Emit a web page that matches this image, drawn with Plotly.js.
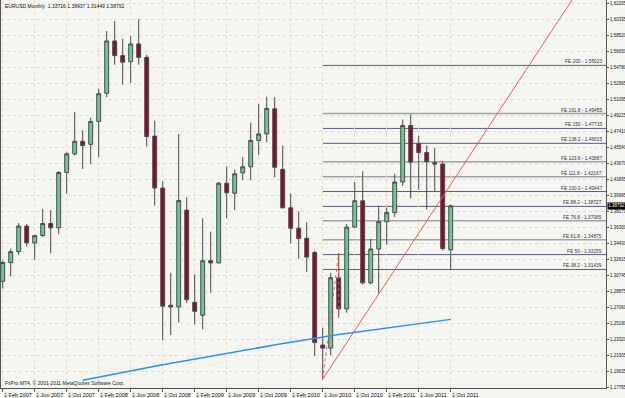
<!DOCTYPE html>
<html><head><meta charset="utf-8">
<script src="https://cdn.plot.ly/plotly-3.0.1.min.js"></script>
<style>html,body{margin:0;padding:0;background:#f5f5f1;}#chart{width:625px;height:398px;}</style>
</head><body><div id="chart"></div>
<script>
// Monthly bars, index 0 = Feb 2007 ... 56 = Oct 2011
const barIdx = Array.from({length: 57}, (_, i) => i);
const openP = [1.3007,1.3225,1.3350,1.3645,1.3450,1.3535,1.3675,1.3625,1.4265,1.4480,1.4625,
  1.4590,1.4855,1.5180,1.5785,1.5615,1.5545,1.5750,1.5595,1.4685,1.4085,1.2730,1.2710,
  1.3830,1.2765,1.2615,1.3245,1.3220,1.4140,1.4025,1.4260,1.4330,1.4635,1.4710,1.5000,
  1.4300,1.3856,1.3620,1.3505,1.3340,1.2270,1.2235,1.3048,1.2688,1.3633,1.3938,1.2990,
  1.3380,1.3696,1.3801,1.4155,1.4808,1.4600,1.4495,1.4378,1.4362,1.33716];
const highP = [1.3245,1.3385,1.3680,1.3670,1.3545,1.3845,1.3830,1.4280,1.4500,1.4965,1.4752,
  1.4900,1.5235,1.5900,1.6015,1.5810,1.5845,1.6038,1.5625,1.4865,1.4165,1.3105,1.4710,
  1.3980,1.3085,1.3735,1.3580,1.4155,1.4335,1.4300,1.4445,1.4840,1.5055,1.5140,1.5135,
  1.4575,1.4020,1.3815,1.3690,1.3360,1.2470,1.3104,1.3333,1.3672,1.4155,1.4280,1.3495,
  1.3880,1.3862,1.4250,1.4875,1.4935,1.4690,1.4575,1.4547,1.4395,1.38937];
const lowP = [1.2925,1.3064,1.3310,1.3405,1.3256,1.3520,1.3330,1.3550,1.4020,1.4460,1.4305,
  1.4360,1.4440,1.5135,1.5510,1.5280,1.5300,1.5510,1.4565,1.3880,1.2325,1.2385,1.2530,
  1.2755,1.2510,1.2450,1.2875,1.3212,1.3735,1.3830,1.4175,1.4175,1.4470,1.4615,1.4210,
  1.3855,1.3445,1.3267,1.3113,1.2143,1.18755,1.2150,1.25871,1.2645,1.3633,1.2970,1.2970,
  1.2867,1.3430,1.3750,1.4110,1.3965,1.4065,1.3835,1.4048,1.3360,1.31449];
const closeP = [1.3225,1.3350,1.3645,1.3450,1.3535,1.3675,1.3625,1.4265,1.4480,1.4625,1.4575,
  1.4855,1.5175,1.5785,1.5615,1.5540,1.5750,1.5595,1.4680,1.4085,1.2720,1.2710,1.3940,
  1.2795,1.2660,1.3245,1.3220,1.4140,1.4030,1.4250,1.4330,1.4635,1.4710,1.5005,1.4325,
  1.3856,1.3620,1.3502,1.3287,1.2300,1.2235,1.3048,1.2688,1.3633,1.3938,1.2990,1.3380,
  1.3696,1.3801,1.4155,1.4808,1.4385,1.4495,1.4390,1.4362,1.3385,1.38792];

// Moving average (blue line)
const maIdx = [10,11,12,13,14,15,16,17,18,19,20,21,22,23,24,25,26,27,28,29,30,31,32,33,
  34,35,36,37,38,39,40,41,42,43,44,45,46,47,48,49,50,51,52,53,54,55,56];
const maVal = [1.1864,1.1883,1.1901,1.1920,1.1938,1.1957,1.1975,1.1993,1.2010,1.2026,1.2042,
  1.2059,1.2075,1.2092,1.2108,1.2125,1.2141,1.2157,1.2175,1.2191,1.2207,1.2223,1.2239,1.2256,
  1.2272,1.2288,1.2304,1.2320,1.2336,1.2353,1.2368,1.2380,1.2393,1.2405,1.2417,1.2430,1.2442,
  1.2454,1.2467,1.2479,1.2491,1.2504,1.2517,1.2529,1.2541,1.2554,1.2567];

// Fibonacci expansion levels
const fePct = ['200','161.8','150','138.2','123.6','111.8','100.0','88.2','76.8','61.8','50','38.2'];
const fePrice = [1.55023,1.49455,1.47735,1.46015,1.43887,1.42167,1.40447,1.38727,1.37065,1.34875,1.33159,1.31439];
const feSoft = [false,true,false,false,true,true,false,false,true,true,false,false];
const feStartIdx = 40;
// Fibo anchor points A-B-C
const fiboIdx = [40, 42, 42];
const fiboPrice = [1.18755, 1.33331, 1.25871];
// Trend line anchors (ray)
const trendIdx = [40, 55];
const trendPrice = [1.18755, 1.3985];

// Axis labels
const dateTickIdx = [0,4,8,12,16,20,24,28,32,36,40,44,48,52,56];
const dateTickText = ['1 Feb 2007','1 Jun 2007','1 Oct 2007','1 Feb 2008','1 Jun 2008','1 Oct 2008',
  '1 Feb 2009','1 Jun 2009','1 Oct 2009','1 Feb 2010','1 Jun 2010','1 Oct 2010','1 Feb 2011',
  '1 Jun 2011','1 Oct 2011'];
const priceTicks = [1.62205,1.60335,1.58520,1.56650,1.54780,1.52965,1.51095,1.49225,1.47410,
  1.45540,1.43670,1.41855,1.39985,1.38170,1.36300,1.34430,1.32615,1.30745,1.28875,1.27060,
  1.25190,1.23320,1.21505,1.19635,1.17765];
const titleText = 'EURUSD,Monthly  1.33716 1.38937 1.31449 1.38792';
const lastPrice = 1.38792;
const copyrightText = 'FxPro MT4, © 2001-2011 MetaQuotes Software Corp.';

const FONT = 'Liberation Sans, Arial, sans-serif';
const xRange = [-0.2125, 75.41];
const yRange = [1.1774, 1.6258];

const slope = (trendPrice[1]-trendPrice[0])/(trendIdx[1]-trendIdx[0]);
const rayEnd = 80;

const traces = [
  {type:'scatter', mode:'lines', x:maIdx, y:maVal, line:{color:'#2f8ff0', width:1.5}, hoverinfo:'skip'},
  {type:'scatter', mode:'lines', x:[trendIdx[0], rayEnd], y:[trendPrice[0], trendPrice[0]+slope*(rayEnd-trendIdx[0])],
    line:{color:'#e0605a', width:1}, hoverinfo:'skip'},
  {type:'scatter', mode:'lines', x:fiboIdx, y:fiboPrice, line:{color:'#e0605a', width:1, dash:'dot'}, hoverinfo:'skip'},
  {type:'candlestick', x:barIdx, open:openP, high:highP, low:lowP, close:closeP,
    increasing:{fillcolor:'#5fcf92', line:{color:'#4a4a4a', width:1}},
    decreasing:{fillcolor:'#8c0c2e', line:{color:'#4a4a4a', width:1}},
    whiskerwidth:0, hoverinfo:'skip'}
];

const shapes = fePrice.map((p, k) => ({
  type:'line', xref:'x', yref:'y', x0:feStartIdx, x1:xRange[1], y0:p, y1:p, layer:'below',
  line:{color: feSoft[k] ? '#a2a2ac' : '#5c5c78', width: feSoft[k] ? 1.5 : 1}
}));

const annotations = [];
fePrice.forEach((p, k) => annotations.push({
  xref:'paper', yref:'y', x:1, y:p, xanchor:'right', yanchor:'bottom', xshift:-2, yshift:-1,
  text:'FE ' + fePct[k] + ' - ' + p.toFixed(5), showarrow:false,
  font:{family:FONT, size:4.8, color:'#333'}
}));
dateTickIdx.forEach((i, k) => annotations.push({
  xref:'x', yref:'paper', x:i, y:0, xanchor:'left', yanchor:'top', xshift:-1, yshift:-2,
  text:dateTickText[k], showarrow:false, font:{family:FONT, size:5.5, color:'#111'}
}));
annotations.push({xref:'paper', yref:'paper', x:0, y:1, xanchor:'left', yanchor:'top', xshift:2, yshift:-1,
  text:titleText, showarrow:false, font:{family:FONT, size:5, color:'#111'}});
annotations.push({xref:'paper', yref:'paper', x:0, y:0, xanchor:'left', yanchor:'bottom', xshift:2, yshift:0,
  text:copyrightText, showarrow:false, font:{family:FONT, size:5, color:'#222'}});
annotations.push({xref:'paper', yref:'y', x:1, y:lastPrice, xanchor:'left', yanchor:'middle', xshift:1,
  text:lastPrice.toFixed(5), showarrow:false, bgcolor:'#000', borderpad:0.3,
  font:{family:FONT, size:4.5, color:'#fff'}});

const layout = {
  width:625, height:398,
  margin:{l:1, r:19, t:0, b:10, pad:0},
  paper_bgcolor:'#f5f5f1', plot_bgcolor:'#f5f5f1',
  showlegend:false,
  xaxis:{type:'linear', range:xRange, rangeslider:{visible:false}, showline:true, linecolor:'#555', linewidth:1,
    tickvals:dateTickIdx, showticklabels:false, ticks:'outside', ticklen:3, tickcolor:'#555',
    showgrid:true, gridcolor:'#e9dcc6', griddash:'dot', gridwidth:1, zeroline:false, fixedrange:true},
  yaxis:{side:'right', range:yRange, showline:true, mirror:true, linecolor:'#555', linewidth:1,
    tickvals:priceTicks, ticktext:priceTicks.map(v => v.toFixed(5)), ticks:'outside', ticklen:2, tickcolor:'#555',
    ticklabelstandoff:0,
    tickfont:{family:FONT, size:4.5, color:'#111'}, showgrid:true, gridcolor:'#e9dcc6', griddash:'dot', gridwidth:1,
    zeroline:false, fixedrange:true},
  shapes:shapes, annotations:annotations
};
Plotly.newPlot('chart', traces, layout, {staticPlot:true, displayModeBar:false});
</script></body></html>
